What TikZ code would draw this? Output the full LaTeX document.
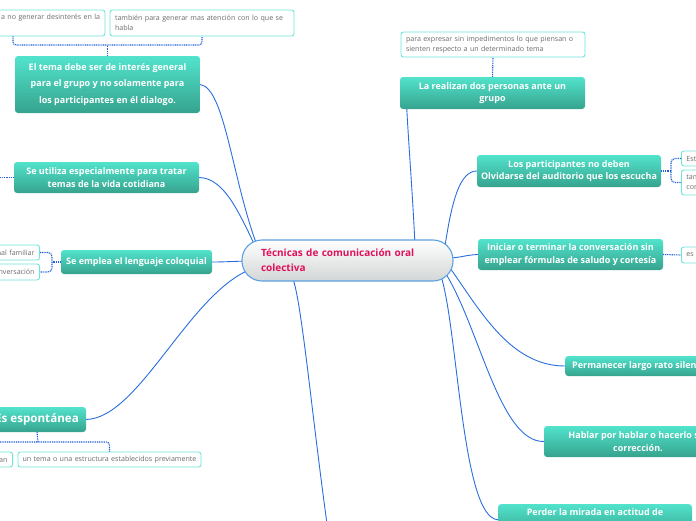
\documentclass[tikz,border=0pt]{standalone}
\usepackage{fontspec}
\setmainfont{Open Sans}
\usetikzlibrary{calc}
\definecolor{tealtop}{HTML}{52E3CC}
\definecolor{tealbot}{HTML}{36A38E}
\definecolor{connblue}{HTML}{2A6EDD}
\definecolor{dotblue}{HTML}{1F5ED8}
\definecolor{subborder}{HTML}{6DE5D8}
\definecolor{subtext}{HTML}{6B6B6B}
\definecolor{centerborder}{HTML}{5BA0E0}
\definecolor{centergray}{HTML}{D3D6D6}
\definecolor{centertext}{HTML}{E0105A}
\pgfdeclarelayer{bg}
\pgfsetlayers{bg,main}
\tikzset{
  mainbox/.style={rectangle, rounded corners=3pt, top color=tealtop, bottom color=tealbot,
    draw=none, text=white, font=\fontsize{9}{12.5}\selectfont\bfseries, align=center, inner sep=0pt},
  subbox/.style={rectangle, rounded corners=2.5pt, draw=subborder, line width=0.9pt, fill=white,
    text=subtext, font=\fontsize{7.1}{9.8}\selectfont, inner xsep=5pt, inner ysep=0pt},
  centerbox/.style={rectangle, rounded corners=20pt, top color=white, bottom color=centergray,
    draw=centerborder, line width=1.1pt, text=centertext, font=\fontsize{10}{15}\selectfont\bfseries,
    align=left, text width=173pt, inner xsep=19pt, inner ysep=0pt, minimum height=41pt},
  conn/.style={draw=connblue, line width=0.9pt},
  dotline/.style={draw=dotblue, line width=1.1pt, dash pattern=on 1pt off 0.8pt},
}
\begin{document}
\begin{tikzpicture}[x=1pt,y=-1pt]
\useasboundingbox (0,0) rectangle (696,520);
\clip (0,0) rectangle (696,520);

% center
\node[centerbox] (c) at (347.5,260.5) {Técnicas de comunicación oral\\colectiva};

% main topics
\node[mainbox, minimum width=185pt, minimum height=57pt, font=\fontsize{9}{16.5}\selectfont\bfseries] (n1) at (107.5,84.5)
  {El tema debe ser de interés general\\para el grupo y no solamente para\\los participantes en él dialogo.};
\node[mainbox, minimum width=185pt, minimum height=31pt] (n2) at (106.5,177.5)
  {Se utiliza especialmente para tratar\\temas de la vida cotidiana};
\node[mainbox, minimum width=151pt, minimum height=24pt] (n3) at (136.5,262)
  {Se emplea el lenguaje coloquial};
\node[mainbox, minimum width=98pt, minimum height=25pt, font=\fontsize{11.6}{15}\selectfont\bfseries] (n4) at (37,419.5)
  {Es espontánea};
\node[mainbox, minimum width=185pt, minimum height=32pt] (n5) at (492.5,93)
  {La realizan dos personas ante un\\grupo};
\node[mainbox, minimum width=184pt, minimum height=32pt] (n6) at (569,171)
  {Los participantes no deben\\Olvidarse del auditorio que los escucha};
\node[mainbox, minimum width=185pt, minimum height=31pt] (n7) at (570.5,254.5)
  {Iniciar o terminar la conversación sin\\emplear fórmulas de saludo y cortesía};
\node[mainbox, minimum height=20pt, inner xsep=7pt, anchor=west] (n8) at (565,366)
  {Permanecer largo rato silencioso.};
\node[mainbox, minimum width=188pt, minimum height=31pt] (n9) at (638,441.5)
  {Hablar por hablar o hacerlo sin\\corrección.};
\node[mainbox, minimum width=194pt, minimum height=31pt, anchor=north] (n10) at (595,504)
  {Perder la mirada en actitud de\\\strut};

% sub boxes
\node[subbox, text width=174pt, align=right, minimum height=26pt] (A) at (13,23)
  {a no generar desinterés en la\\\strut};
\node[subbox, text width=174pt, align=left, minimum height=26pt] (B) at (202,23)
  {también para generar mas atención con lo que se\\habla};
\node[subbox, text width=174pt, align=left, minimum height=25pt] (C) at (493,44.5)
  {para expresar sin impedimentos lo que piensan o\\sienten respecto a un determinado tema};
\node[subbox, text width=80pt, align=left, minimum height=15pt, anchor=west] (D) at (681,158.5) {Est};
\node[subbox, text width=80pt, align=left, minimum height=25pt, anchor=west] (E) at (681,182.5) {tam\\con};
\node[subbox, text width=80pt, align=left, minimum height=16pt, anchor=west] (F) at (681,255) {es};
\node[subbox, text width=80pt, align=right, minimum height=15pt, anchor=east] (G) at (40,252.5) {nal familiar};
\node[subbox, text width=80pt, align=right, minimum height=16pt, anchor=east] (H) at (40,272) {nversación};
\node[subbox, text width=181pt, inner xsep=1pt, align=center, minimum height=15pt] (I) at (109.5,459.5)
  {un tema o una estructura establecidos previamente};
\node[subbox, text width=100pt, align=right, minimum height=15pt, anchor=east] (J) at (13,459.5) {lan};

% helper coordinates
\coordinate (b1) at (107.5,45);
\coordinate (b3) at (52,262);
\coordinate (b4) at (38,442);
\coordinate (b6) at (671,171);
\coordinate (e2) at (-10,177.5);
\coordinate (e11) at (330,545);

% dotted connectors
\draw[dotline] (n1.north) -- (b1);
\draw[dotline, rounded corners=3pt] (A.south) |- (b1) -| (B.south);
\draw[dotline] (n2.west) -- (e2);
\draw[dotline] (n3.west) -- (b3);
\draw[dotline, rounded corners=4pt] (G.east) -| (b3) |- (H.east);
\draw[dotline] (n4.south) -- (b4);
\draw[dotline, rounded corners=3pt] (J.north) |- (b4) -| (I.north);
\draw[dotline] (n5.north) -- (C.south);
\draw[dotline] (n6.east) -- (b6);
\draw[dotline, rounded corners=4pt] (D.west) -| (b6) |- (E.west);
\draw[dotline] (n7.east) -- (F.west);

% solid connectors behind the centre
\begin{pgfonlayer}{bg}
\draw[conn] (n1.east) .. controls (225,88) and (232,180) .. (258,248);
\draw[conn] (n2.east) .. controls (225,178) and (240,215) .. (258,252);
\draw[conn] (n3.east) .. controls (228,262) and (235,261) .. (256,261);
\draw[conn] (n4.east) .. controls (140,418) and (190,290) .. (254,268);
\draw[conn] ($(n5.south west)+(7,0)$) .. controls (409,150) and (413,200) .. (415,246);
\draw[conn] (n6.west) .. controls (460,171) and (452,200) .. (445,246);
\draw[conn] (n7.west) .. controls (465,255) and (460,258) .. (448,258);
\draw[conn] (n8.west) .. controls (510,366) and (480,310) .. (450,268);
\draw[conn] (n9.west) .. controls (500,442) and (480,330) .. (446,274);
\draw[conn] (n10.west) .. controls (462,518) and (458,330) .. (441,276);
\draw[conn] (292,276) .. controls (302,300) and (312,420) .. (e11);
\end{pgfonlayer}
\end{tikzpicture}
\end{document}
